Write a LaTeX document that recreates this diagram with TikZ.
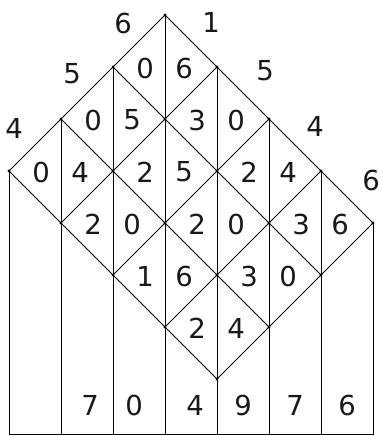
\documentclass[tikz,border=0pt]{standalone}
\usepackage{fontspec}
\setmainfont{DejaVu Sans}
\begin{document}
\begin{tikzpicture}[x=1pt,y=-1pt,
  gridline/.style={line width=1pt, black},
  dig/.style={font=\fontsize{27.5}{27.5}\selectfont, inner sep=0pt, text=black!90},
  latdot/.style={circle, fill=black, inner sep=0pt, minimum size=3.2pt}]
\useasboundingbox (0,0) rectangle (382,436);
% lattice points
\foreach \i in {0,...,3}{
  \foreach \j in {0,...,4}{
    \coordinate (P\i\j) at ({165-52*\i+52*\j},{15+52*\i+52*\j});
  }
}
% bottom points
\foreach \k in {0,...,7}{
  \coordinate (B\k) at ({9+52*\k},434.5);
}
% grid lines
\foreach \i in {0,...,3}{ \draw[gridline] (P\i0) -- (P\i4); }
\foreach \j in {0,...,4}{ \draw[gridline] (P0\j) -- (P3\j); }
% vertical lines
\draw[gridline] (P30) -- (B0);
\draw[gridline] (P20) -- (B1);
\draw[gridline] (P10) -- (B2);
\draw[gridline] (P00) -- (B3);
\draw[gridline] (P01) -- (B4);
\draw[gridline] (P02) -- (B5);
\draw[gridline] (P03) -- (B6);
\draw[gridline] (P04) -- (B7);
\draw[gridline] (B0) -- (B7);
% dots
\foreach \i in {0,...,3}{
  \foreach \j in {0,...,4}{
    \node[latdot] (D\i\j) at (P\i\j) {};
  }
}
% top-left labels
\node[dig] (a0) at (123,23) {6};
\node[dig] (a1) at (72,74) {5};
\node[dig] (a2) at (14,128) {4};
% top-right labels
\node[dig] (b0) at (211,22) {1};
\node[dig] (b1) at (265,71) {5};
\node[dig] (b2) at (315,126) {4};
\node[dig] (b3) at (371,180) {6};
% cell digits
\foreach \i/\j/\t/\u in {0/0/0/6,0/1/3/0,0/2/2/4,0/3/3/6,
                         1/0/0/5,1/1/2/5,1/2/2/0,1/3/3/0,
                         2/0/0/4,2/1/2/0,2/2/1/6,2/3/2/4}{
  \node[dig] (c\i\j t) at ({165-52*\i+52*\j-20},{68+52*\i+52*\j}) {\t};
  \node[dig] (c\i\j u) at ({165-52*\i+52*\j+19},{68+52*\i+52*\j}) {\u};
}
% result digits
\node[dig] (r0) at (90,405) {7};
\node[dig] (r1) at (134,405) {0};
\node[dig] (r2) at (195,405) {4};
\node[dig] (r3) at (243,405) {9};
\node[dig] (r4) at (295,405) {7};
\node[dig] (r5) at (347,405) {6};
\end{tikzpicture}
\end{document}
